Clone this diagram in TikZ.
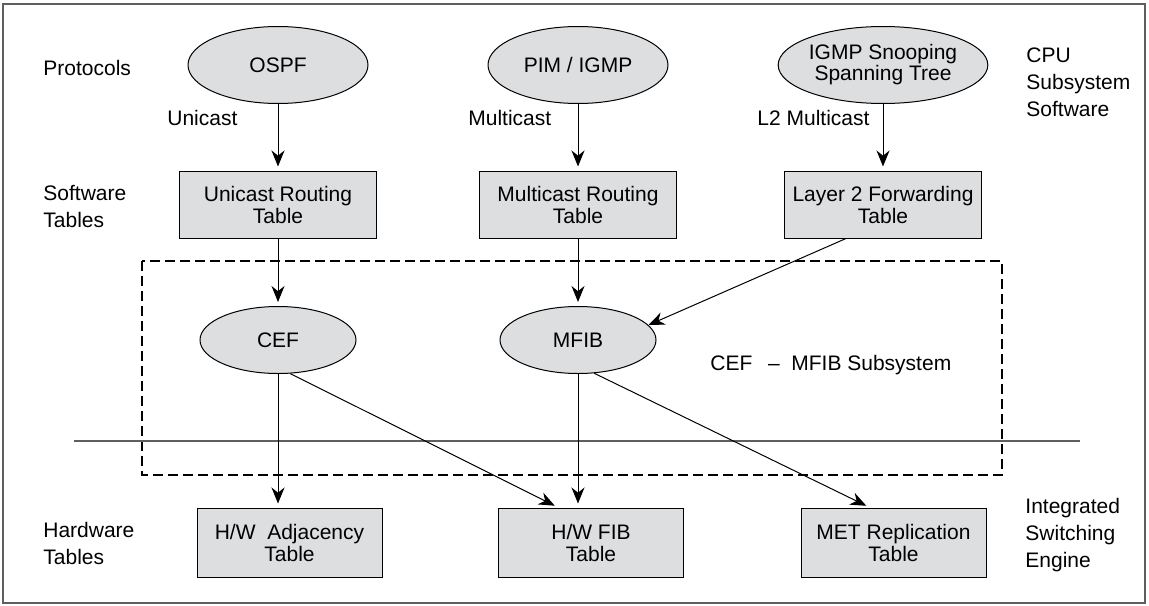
\documentclass[tikz,border=0pt]{standalone}
\usepackage{fontspec}
\setmainfont{Liberation Sans}
\usepackage{tikz}
\usetikzlibrary{arrows.meta,positioning,shapes.geometric}

\definecolor{boxgray}{RGB}{221,222,223}
\definecolor{framegray}{RGB}{95,95,95}

\begin{document}
\begin{tikzpicture}[x=0.5pt,y=-0.5pt,
	every node/.style={font=\fontsize{10.5}{11}\selectfont},
	proto/.style={ellipse,draw,fill=boxgray,line width=0.5pt,inner sep=0pt,minimum width=90pt,minimum height=38.5pt,align=center},
	fwd/.style={ellipse,draw,fill=boxgray,line width=0.5pt,inner sep=0pt,minimum width=78pt,minimum height=33.5pt},
	swtbl/.style={rectangle,draw,fill=boxgray,line width=0.5pt,inner sep=0pt,minimum width=98.5pt,minimum height=33.5pt,align=center},
	hwtbl/.style={swtbl,minimum width=92.5pt,minimum height=34.5pt},
	side/.style={anchor=west,align=left,inner sep=0pt,font=\fontsize{10.5}{13.5}\selectfont},
	flow/.style={-{Stealth[length=8pt,width=6.5pt]},line width=0.5pt,shorten >=2pt}]
	\useasboundingbox (0,0) rectangle (1149,605);
	\draw[framegray,line width=0.8pt] (3,4) rectangle (1145,603);

	% cpu side
	\node[proto] (ospf) at (278,65) {OSPF};
	\node[proto] (pim) at (578,65) {PIM / IGMP};
	\node[proto,font=\fontsize{10.5}{10.5}\selectfont] (igmp) at (883,65) {IGMP Snooping\\Spanning Tree};
	\node[swtbl] (ucast) at (278,204.5) {Unicast Routing\\Table};
	\node[swtbl] (mcast) at (578,204.5) {Multicast Routing\\Table};
	\node[swtbl] (l2fwd) at (883,204.5) {Layer 2 Forwarding\\Table};

	% forwarding subsystem
	\draw[line width=0.8pt,dash pattern=on 5pt off 2.5pt] (142,261) rectangle (1002,475);
	\draw[framegray,line width=0.6pt] (74,441) -- (1080,441);
	\node[fwd] (cef) at (278,340) {CEF};
	\node[fwd] (mfib) at (578,340) {MFIB};

	% hardware
	\node[hwtbl] (adj) at (289.5,542.5) {H/W\ \ Adjacency\\Table};
	\node[hwtbl] (fib) at (591,542.5) {H/W FIB\\Table};
	\node[hwtbl] (met) at (893.5,542.5) {MET Replication\\Table};

	% labels
	\node[side] (protolbl) at (43,68) {Protocols};
	\node[side] (swlbl) at (43,207) {Software\\Tables};
	\node[side] (hwlbl) at (43,543) {Hardware\\Tables};
	\node[side] (cpulbl) at (1026,82) {CPU\\Subsystem\\Software};
	\node[side] (iselbl) at (1025,535) {Integrated\\Switching\\Engine};
	\node[side] (ucastlbl) at (167,118) {Unicast};
	\node[side] (mcastlbl) at (468,118) {Multicast};
	\node[side] (l2lbl) at (757,118) {L2 Multicast};
	\node[side] (subsys) at (710,365) {CEF\hspace{0.75em}--\hspace{0.55em}MFIB Subsystem};

	\path[flow]
		(ospf) edge (ucast)
		(pim) edge (mcast)
		(igmp) edge (l2fwd)
		(ucast) edge (cef)
		(mcast) edge (mfib)
		([xshift=-18.5pt]l2fwd.south) edge[shorten >=0pt] (mfib.12)
		(cef) edge (cef |- adj.north)
		(cef.-70) edge (fib.133)
		(mfib) edge (mfib |- fib.north)
		(mfib.-64) edge (met.124);
\end{tikzpicture}
\end{document}
